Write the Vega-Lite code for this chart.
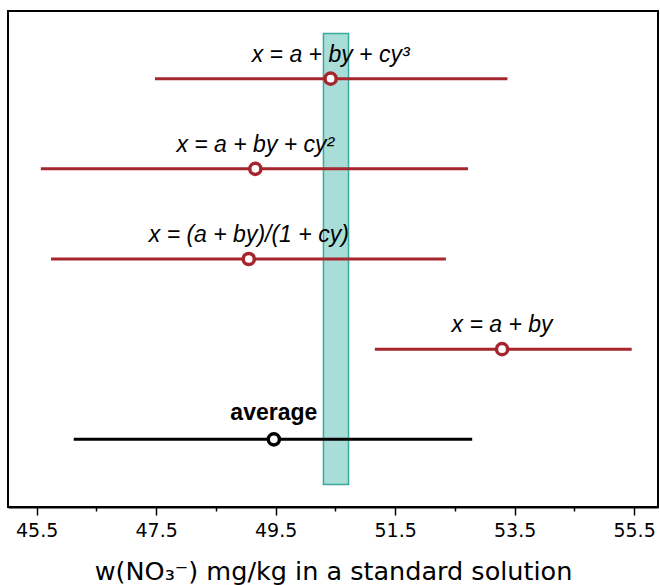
{
  "$schema": "https://vega.github.io/schema/vega-lite/v6.json",
  "width": 650,
  "height": 496,
  "autosize": "none",
  "padding": {"left": 8, "top": 11, "right": 2, "bottom": 78},
  "background": "white",
  "config": {
    "view": {"stroke": "black", "strokeWidth": 2},
    "font": "Liberation Sans"
  },
  "datasets": {
    "rows": [
      {"name": "cubic", "label": "x = a + by + cy³", "row": 5, "value": 50.42, "lo": 47.48, "hi": 53.38, "group": "fit"},
      {"name": "quadratic", "label": "x = a + by + cy²", "row": 4, "value": 49.16, "lo": 45.57, "hi": 52.72, "group": "fit"},
      {"name": "rational", "label": "x = (a + by)/(1 + cy)", "row": 3, "value": 49.05, "lo": 45.74, "hi": 52.35, "group": "fit"},
      {"name": "linear", "label": "x = a + by", "row": 2, "value": 53.29, "lo": 51.16, "hi": 55.46, "group": "fit"},
      {"name": "average", "label": "average", "row": 1, "value": 49.47, "lo": 46.12, "hi": 52.79, "group": "avg"}
    ],
    "band": [
      {"x1": 50.30, "x2": 50.72, "y1": 0.5, "y2": 5.5}
    ]
  },
  "layer": [
    {
      "data": {"name": "band"},
      "mark": {"type": "rect", "fill": "#a9ddd8", "stroke": "#3aaa9e", "strokeWidth": 1.5},
      "encoding": {
        "x": {"field": "x1", "type": "quantitative", "scale": {"domain": [45.02, 55.9], "nice": false, "zero": false},
          "axis": {
            "title": "w(NO₃⁻) mg/kg in a standard solution",
            "values": [45.5, 46, 46.5, 47, 47.5, 48, 48.5, 49, 49.5, 50, 50.5, 51, 51.5, 52, 52.5, 53, 53.5, 54, 54.5, 55, 55.5],
            "labelExpr": "(round(datum.value*2) - 91) % 4 == 0 ? format(datum.value, '.1f') : ''",
            "grid": false,
            "domainColor": "black", "domainWidth": 2,
            "tickColor": "black", "tickWidth": 1.5,
            "tickSize": {"condition": {"test": "(round(datum.value*2) - 91) % 4 == 0", "value": 8}, "value": 4},
            "labelColor": "black", "labelFontSize": 19, "labelPadding": 6, "labelFont": "DejaVu Sans",
            "titleColor": "black", "titleFontSize": 25.5, "titleFontWeight": "normal", "titlePadding": 19, "titleFont": "DejaVu Sans"
          }},
        "x2": {"field": "x2"},
        "y": {"field": "y1", "type": "quantitative", "scale": {"domain": [0.25, 5.75], "nice": false, "zero": false}, "axis": null},
        "y2": {"field": "y2"}
      }
    },
    {
      "data": {"name": "rows"},
      "mark": {"type": "rule", "strokeWidth": 3},
      "encoding": {
        "x": {"field": "lo", "type": "quantitative"},
        "x2": {"field": "hi"},
        "y": {"field": "row", "type": "quantitative"},
        "color": {"field": "group", "type": "nominal", "scale": {"domain": ["fit", "avg"], "range": ["#a6262e", "#000000"]}, "legend": null}
      }
    },
    {
      "data": {"name": "rows"},
      "mark": {"type": "point", "shape": "circle", "filled": false, "fill": "white", "fillOpacity": 1, "strokeWidth": 3.5, "size": 125, "opacity": 1},
      "encoding": {
        "x": {"field": "value", "type": "quantitative"},
        "y": {"field": "row", "type": "quantitative"},
        "stroke": {"field": "group", "type": "nominal", "scale": {"domain": ["fit", "avg"], "range": ["#a6262e", "#000000"]}, "legend": null}
      }
    },
    {
      "data": {"name": "rows"},
      "transform": [{"filter": "datum.group == 'fit'"}],
      "mark": {"type": "text", "fontStyle": "italic", "fontSize": 23, "color": "black", "baseline": "alphabetic", "align": "center", "dy": -17, "font": "Liberation Sans"},
      "encoding": {
        "x": {"field": "value", "type": "quantitative"},
        "y": {"field": "row", "type": "quantitative"},
        "text": {"field": "label"}
      }
    },
    {
      "data": {"name": "rows"},
      "transform": [{"filter": "datum.group == 'avg'"}],
      "mark": {"type": "text", "fontWeight": "bold", "fontSize": 23, "color": "black", "baseline": "alphabetic", "align": "center", "dy": -19, "font": "Liberation Sans"},
      "encoding": {
        "x": {"field": "value", "type": "quantitative"},
        "y": {"field": "row", "type": "quantitative"},
        "text": {"field": "label"}
      }
    }
  ]
}
